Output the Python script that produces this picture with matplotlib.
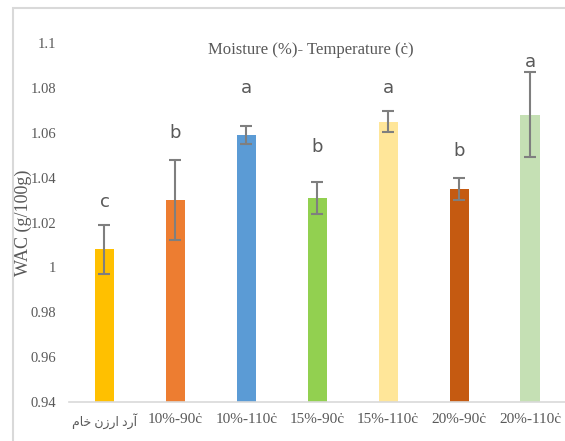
import numpy as np
from matplotlib import pyplot as plt
from matplotlib.patches import Rectangle

# data
labels = ["\uFEE1\uFE8E\uFEA7 \uFEE5\uFEAF\uFEAD\uFE8D \uFEA9\uFEAD\uFE81",
          "10%-90ċ", "10%-110ċ", "15%-90ċ", "15%-110ċ", "20%-90ċ", "20%-110ċ"]
wac = [1.008, 1.030, 1.059, 1.031, 1.065, 1.035, 1.068]
err = [0.011, 0.018, 0.004, 0.007, 0.0048, 0.005, 0.019]
letters = ["c", "b", "a", "b", "a", "b", "a"]
letter_y = [1.029, 1.060, 1.080, 1.0535, 1.080, 1.0517, 1.0915]
colors = ["#FFC000", "#ED7D31", "#5B9BD5", "#92D050", "#FFE699", "#C55A11", "#C5E0B4"]

serif = ["Liberation Serif", "DejaVu Sans"]
grey = "#595959"

fig = plt.figure(figsize=(5.65, 4.41), dpi=100)
fig.patches.append(Rectangle((13/565, -0.1), 1.2, 1 - 8/441 + 0.1,
                             transform=fig.transFigure, fill=False,
                             edgecolor="#d9d9d9", linewidth=1.5))
ax = fig.add_axes([69/565, 1 - 402/441, 496.5/565, (402 - 43)/441])

x = np.arange(len(wac))
ax.bar(x, np.array(wac) - 0.94, bottom=0.94, width=0.27, color=colors)
ax.errorbar(x, wac, yerr=err, fmt="none", ecolor="#7f7f7f",
            elinewidth=1.5, capsize=4, capthick=1.5)
for xi, t, ly in zip(x, letters, letter_y):
    ax.text(xi, ly, t, ha="center", va="center", color=grey,
            fontsize=13, family="DejaVu Sans")

ax.set_xlim(-0.5, len(wac) - 0.5)
ax.set_ylim(0.94, 1.1)
ax.set_yticks(np.arange(0.94, 1.101, 0.02))
ax.set_yticklabels(["0.94", "0.96", "0.98", "1", "1.02", "1.04", "1.06", "1.08", "1.1"],
                   family=serif, fontsize=10.5, color=grey)
ax.set_xticks(x)
ax.set_xticklabels(labels, family=serif, fontsize=11, color=grey)
ax.get_xticklabels()[0].set_fontsize(9)
ax.tick_params(length=0, pad=8)
ax.tick_params(axis="y", pad=9)
for s in ["left", "right", "top"]:
    ax.spines[s].set_visible(False)
ax.spines["bottom"].set_color("#d9d9d9")
ax.spines["bottom"].set_linewidth(1.2)

ax.set_ylabel("WAC (g/100g)", family=serif, fontsize=13, color=grey)
ax.yaxis.set_label_coords(-0.074, 0.5)
fig.text(311/565, 1 - 50/441, "Moisture (%)- Temperature (ċ)", ha="center",
         va="center", family=serif, fontsize=12, color=grey)

fig.savefig("out.png")
